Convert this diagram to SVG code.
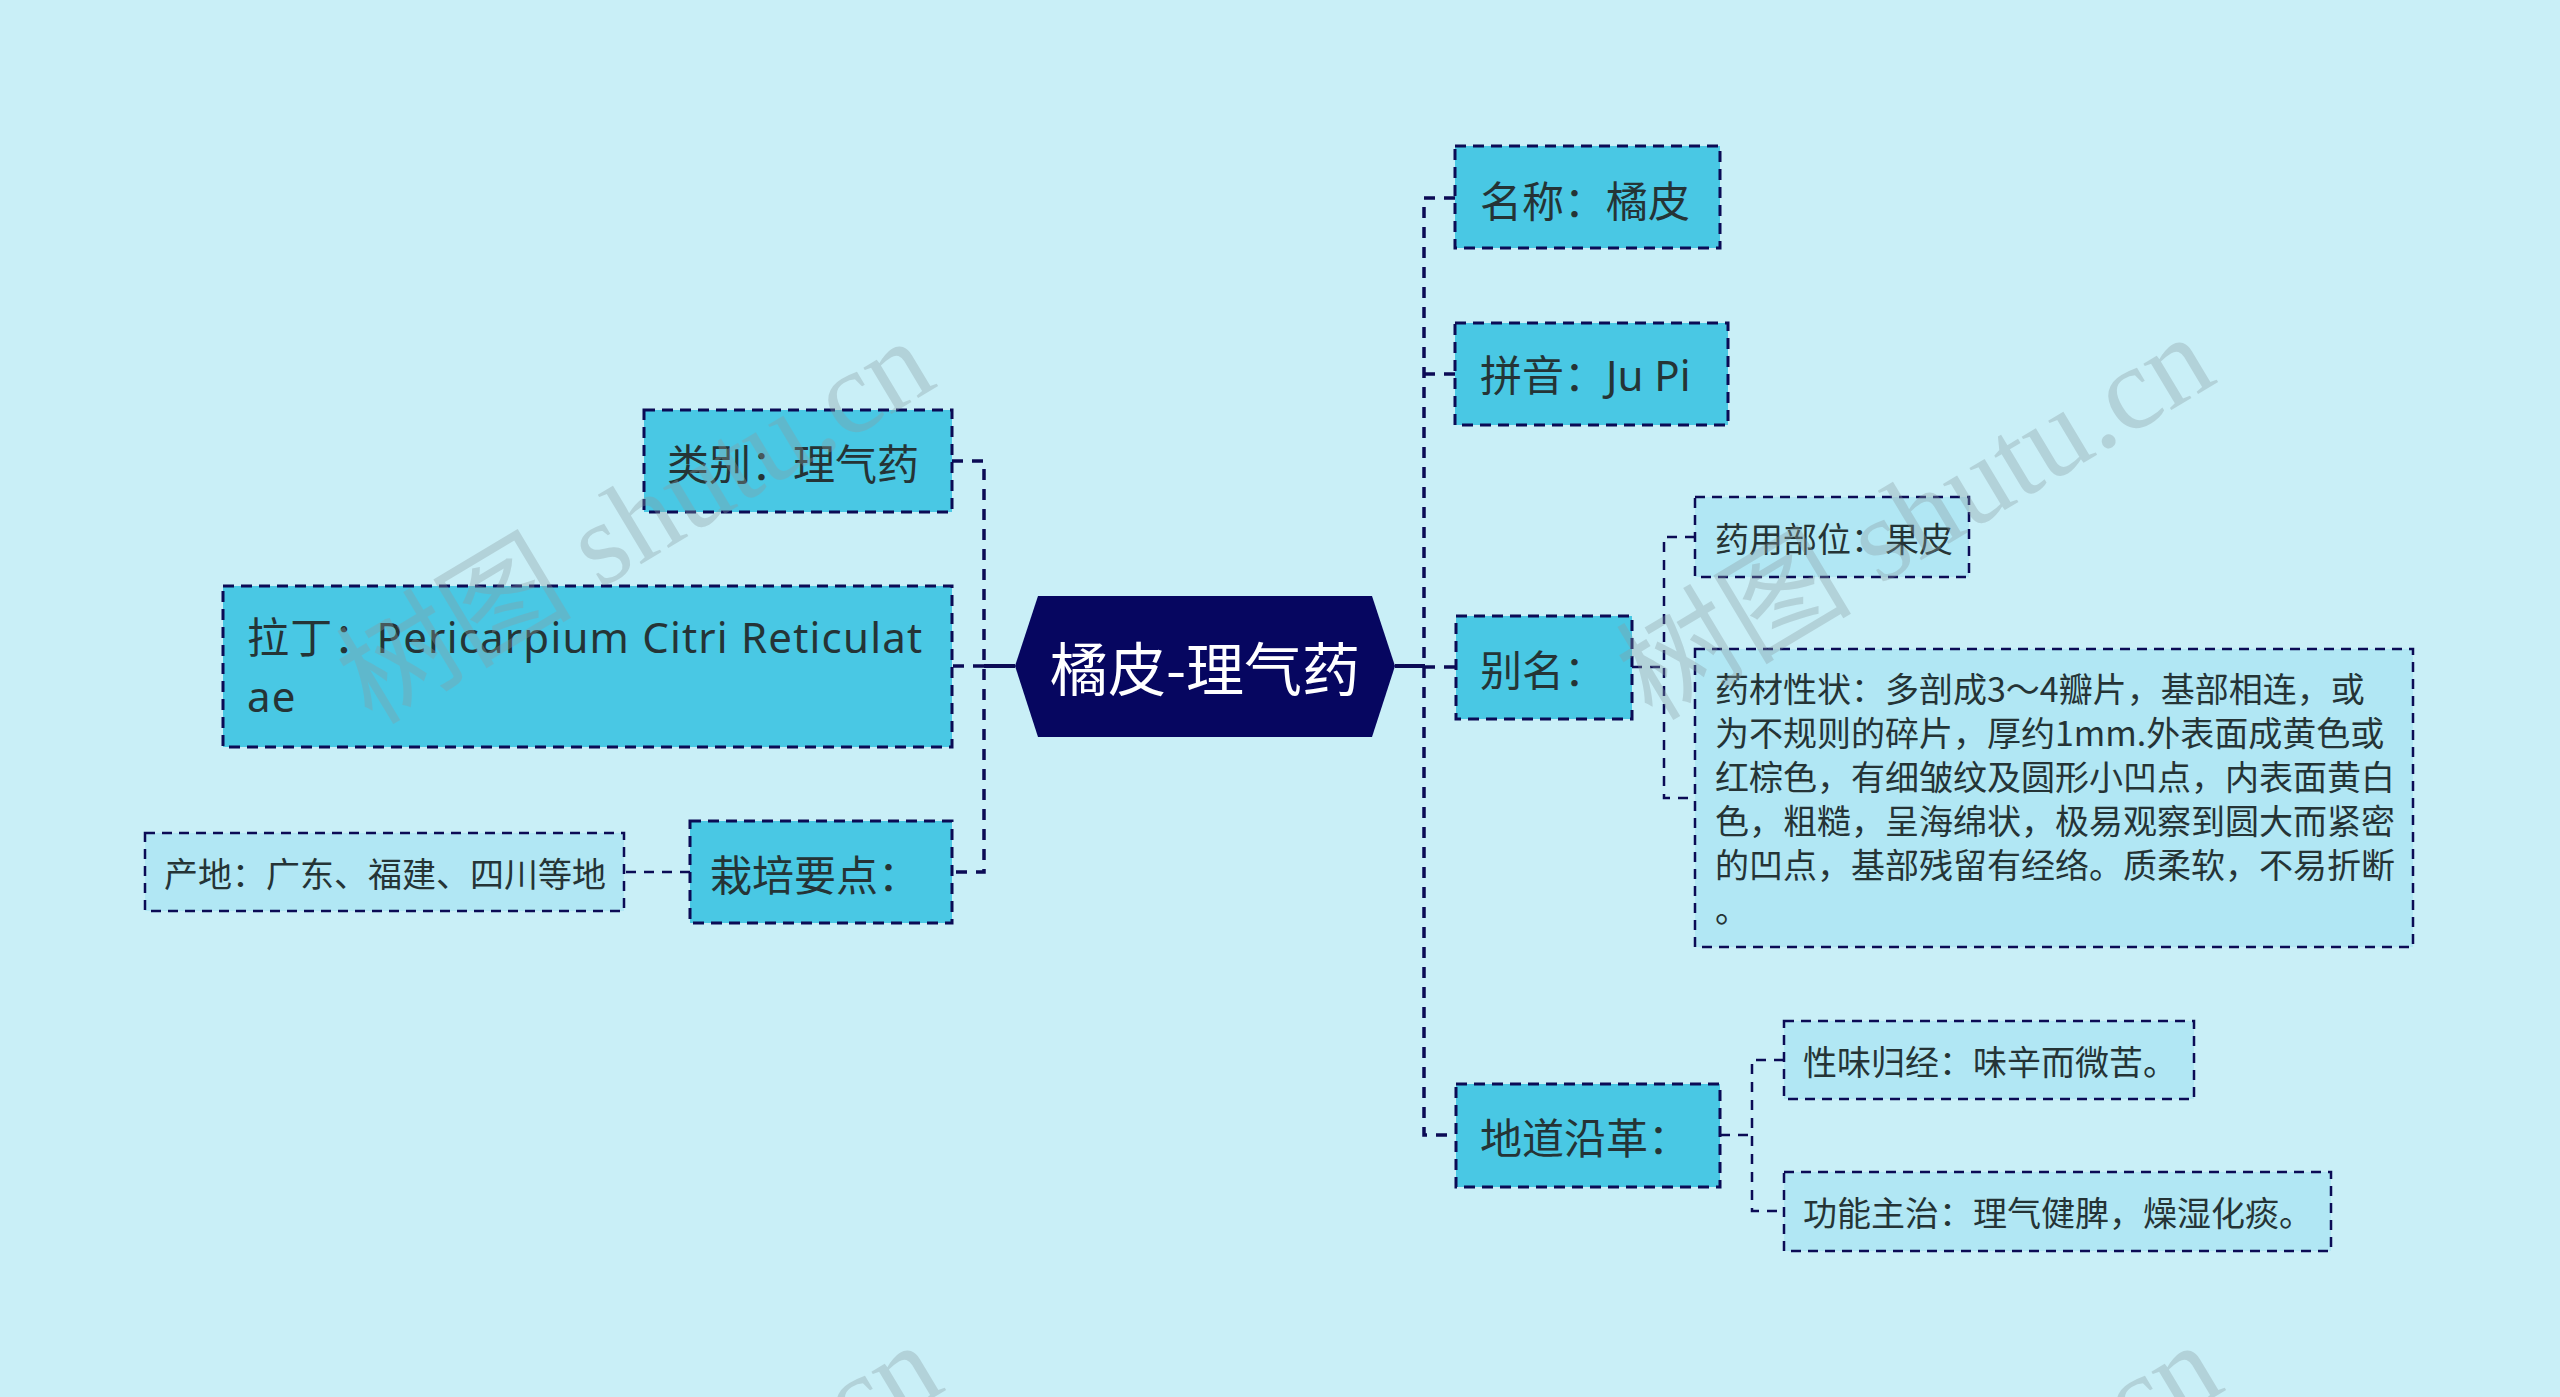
<svg xmlns="http://www.w3.org/2000/svg" width="2560" height="1397" viewBox="0 0 2560 1397">
<style>
text{font-family:"Noto Sans CJK SC","Noto Sans",sans-serif;fill:#253436}
.lat{font-family:"Noto Sans","Noto Sans CJK SC",sans-serif}
.n2{fill:#49c8e4;stroke:#0b0b55;stroke-width:3;stroke-dasharray:11 7}
.n3{fill:#b1e7f4;stroke:#0b0b55;stroke-width:2.5;stroke-dasharray:10 7}
.t2{font-size:42px}
.t3{font-size:34px}
.c{fill:none;stroke:#0b0b55;stroke-width:3.5;stroke-dasharray:11 9}
.c3{fill:none;stroke:#0b0b55;stroke-width:2.5;stroke-dasharray:10 8}
.s{fill:none;stroke:#0b0b55;stroke-width:4}
.wm{font-family:"Liberation Serif","Noto Sans CJK SC",serif;font-size:118px;fill:#8a9da2;opacity:0.35}
</style>
<rect width="2560" height="1397" fill="#c9eff7"/>
<g id="connectors">
<path class="s" d="M1015 666 H984"/>
<path class="c" d="M952 461 H984 V872 H952 M984 666 H952"/>
<path class="c3" d="M690 872 H624"/>
<path class="s" d="M1395 666 H1425"/>
<path class="c" d="M1455 198 H1424 V1135 H1456 M1424 374 H1455 M1424 667 H1456"/>
<path class="c3" d="M1632 667 H1664 M1695 537 H1664 V798 H1695"/>
<path class="c3" d="M1720 1135 H1752 M1784 1060 H1752 V1211 H1784"/>
</g>
<g id="center">
<polygon points="1015,666 1038,596 1372,596 1395,666 1372,737 1038,737" fill="#060660"/>
<text x="1205" y="666" text-anchor="middle" dominant-baseline="central" style="font-size:58px;fill:#ffffff">橘皮-理气药</text>
</g>
<g id="n-leibie">
<rect class="n2" x="644" y="410" width="308" height="102"/>
<text class="t2" x="667" y="461" dominant-baseline="central">类别：理气药</text>
</g>
<g id="n-lading">
<rect class="n2" x="223" y="586" width="729" height="161"/>
<text class="t2 lat" x="247" y="653" style="letter-spacing:1.2px">拉丁：Pericarpium Citri Reticulat</text>
<text class="t2 lat" x="247" y="712" style="letter-spacing:1.2px">ae</text>
</g>
<g id="n-zaipei">
<rect class="n2" x="690" y="821" width="262" height="102"/>
<text class="t2" x="710" y="872" dominant-baseline="central">栽培要点：</text>
</g>
<g id="n-chandi">
<rect class="n3" x="145" y="833" width="479" height="78"/>
<text class="t3" x="164" y="872" dominant-baseline="central">产地：广东、福建、四川等地</text>
</g>
<g id="n-mingcheng">
<rect class="n2" x="1455" y="146" width="265" height="102"/>
<text class="t2" x="1480" y="198" dominant-baseline="central">名称：橘皮</text>
</g>
<g id="n-pinyin">
<rect class="n2" x="1455" y="323" width="273" height="102"/>
<text class="t2 lat" x="1480" y="374" dominant-baseline="central">拼音：Ju Pi</text>
</g>
<g id="n-bieming">
<rect class="n2" x="1456" y="616" width="176" height="103"/>
<text class="t2" x="1480" y="667" dominant-baseline="central">别名：</text>
</g>
<g id="n-yaoyong">
<rect class="n3" x="1695" y="497" width="274" height="80"/>
<text class="t3" x="1715" y="537" dominant-baseline="central">药用部位：果皮</text>
</g>
<g id="n-xingzhuang">
<rect class="n3" x="1695" y="649" width="718" height="298"/>
<text class="t3" x="1715">
<tspan x="1715" y="702">药材性状：多剖成3～4瓣片，基部相连，或</tspan>
<tspan x="1715" y="746">为不规则的碎片，厚约1mm.外表面成黄色或</tspan>
<tspan x="1715" y="790">红棕色，有细皱纹及圆形小凹点，内表面黄白</tspan>
<tspan x="1715" y="834">色，粗糙，呈海绵状，极易观察到圆大而紧密</tspan>
<tspan x="1715" y="878">的凹点，基部残留有经络。质柔软，不易折断</tspan>
<tspan x="1715" y="922">。</tspan>
</text>
</g>
<g id="n-didao">
<rect class="n2" x="1456" y="1084" width="264" height="103"/>
<text class="t2" x="1480" y="1135" dominant-baseline="central">地道沿革：</text>
</g>
<g id="n-xingwei">
<rect class="n3" x="1784" y="1021" width="410" height="78"/>
<text class="t3" x="1803" y="1060" dominant-baseline="central">性味归经：味辛而微苦。</text>
</g>
<g id="n-gongneng">
<rect class="n3" x="1784" y="1172" width="547" height="79"/>
<text class="t3" x="1803" y="1211" dominant-baseline="central">功能主治：理气健脾，燥湿化痰。</text>
</g>
<g id="watermarks">
<text class="wm" transform="translate(372 726) rotate(-31)">树图 shutu.cn</text>
<text class="wm" transform="translate(1652 722) rotate(-31)">树图 shutu.cn</text>
<text class="wm" transform="translate(380 1730) rotate(-31)">树图 shutu.cn</text>
<text class="wm" transform="translate(1660 1730) rotate(-31)">树图 shutu.cn</text>
</g>
</svg>
